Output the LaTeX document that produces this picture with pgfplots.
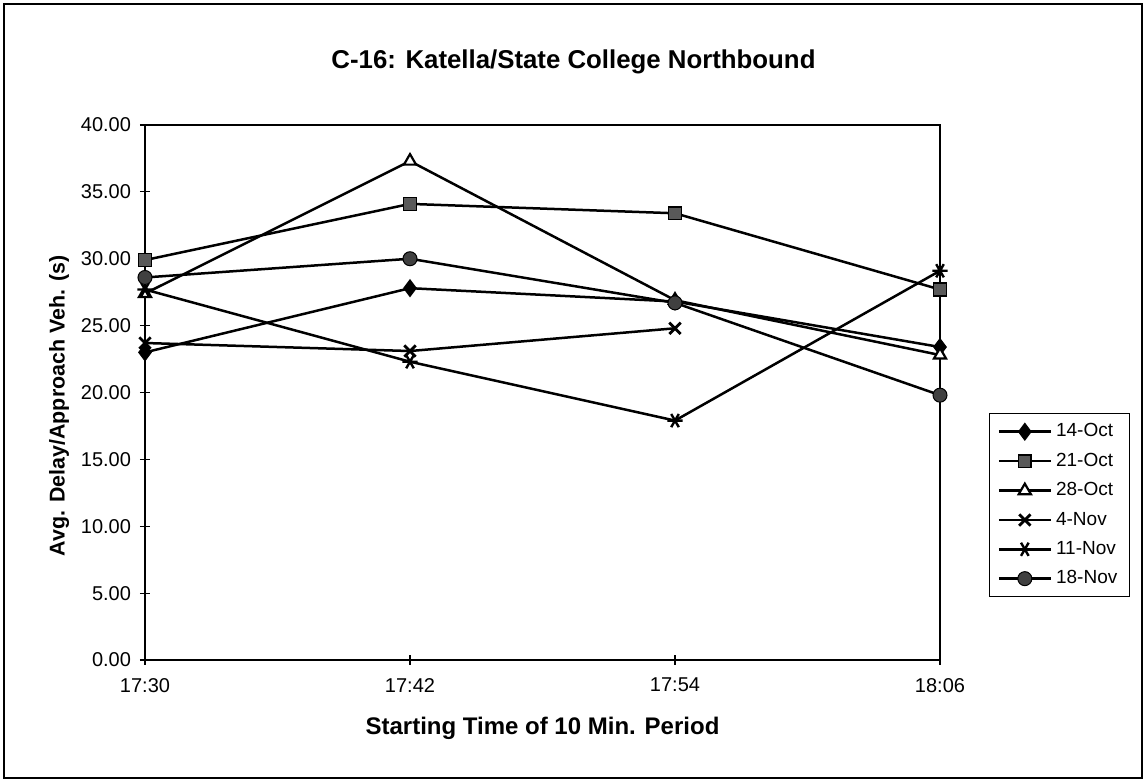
\documentclass[border=0pt]{standalone}
\usepackage{pgfplots}
\pgfplotsset{compat=1.18}
\usepackage{fontspec}
\setmainfont{Liberation Sans}
\usetikzlibrary{plotmarks}

\begin{document}
\begin{tikzpicture}
\path[use as bounding box] (-72.5pt,-60pt) rectangle (500.5pt,330pt);
\draw[line width=1pt] (-70.5pt,-59pt) rectangle (498.5pt,328pt);
\begin{axis}[
    at={(0pt,0pt)}, anchor=origin,
    scale only axis,
    width=397.5pt, height=267.5pt,
    xmin=0, xmax=3, ymin=0, ymax=40,
    xtick={0,1,2,3},
    xticklabels={17:30,17:42,17:54,18:06},
    ytick={0,5,...,40},
    yticklabel={\pgfmathprintnumber[fixed,fixed zerofill,precision=2]{\tick}},
    /pgf/number format/assume math mode=true,
    every tick label/.append style={font=\fontsize{10}{12}\selectfont},
    xtick pos=bottom, ytick pos=left,
    tick align=center,
    major tick length=5pt,
    tick style={black, line width=0.6pt},
    axis line style={line width=1.1pt},
    xticklabel style={yshift=-3pt},
    yticklabel style={xshift=-1pt},
    xlabel={Starting Time of 10 Min. Period},
    ylabel={Avg. Delay/Approach Veh. (s)},
    xlabel style={font=\fontsize{12}{14}\selectfont\bfseries, yshift=-5.5pt},
    ylabel style={font=\fontsize{10.7}{13}\selectfont\bfseries, at={(ticklabel cs:0.475)}, yshift=-1pt},
    title={C-16: Katella/State College Northbound},
    title style={font=\fontsize{12.9}{15}\selectfont\bfseries, at={(0.5,1)}, yshift=16pt, xshift=15.5pt},
    legend style={at={(1.0616,0.4617)}, anchor=north west, draw=black, line width=0.6pt,
        font=\fontsize{9.5}{11}\selectfont, row sep=2.6pt, inner xsep=4pt, inner ysep=3pt,
        nodes={inner xsep=2pt}},
    legend cell align=left,
    legend image code/.code={
        \draw[mark repeat=2,mark phase=2] plot coordinates {(0pt,0pt) (13pt,0pt) (26pt,0pt)};
    },
    every axis plot/.append style={black, line width=1.25pt},
]
\addplot[mark=diamond*, mark options={fill=black, solid, line width=0.5pt}, mark size=4.2pt]
    coordinates {(0,23.0) (1,27.8) (2,26.8) (3,23.4)};
\addlegendentry{14-Oct}
\addplot[mark=square*, mark options={fill=black!65, solid, line width=0.8pt}, mark size=3.2pt]
    coordinates {(0,29.9) (1,34.1) (2,33.4) (3,27.7)};
\addlegendentry{21-Oct}
\addplot[mark=triangle*, mark options={fill=white, solid, line width=1.1pt}, mark size=3.5pt]
    coordinates {(0,27.4) (1,37.3) (2,26.9) (3,22.8)};
\addlegendentry{28-Oct}
\addplot[mark=x, mark options={solid, line width=1.4pt}, mark size=4pt]
    coordinates {(0,23.7) (1,23.1) (2,24.8)};
\addlegendentry{4-Nov}
\addplot[mark=asterisk, mark options={solid, line width=1.2pt, rotate=90}, mark size=3.8pt]
    coordinates {(0,27.7) (1,22.3) (2,17.9) (3,29.1)};
\addlegendentry{11-Nov}
\addplot[mark=*, mark options={fill=black!75, solid, line width=0.5pt}, mark size=3.5pt]
    coordinates {(0,28.6) (1,30.0) (2,26.7) (3,19.8)};
\addlegendentry{18-Nov}
\end{axis}
\end{tikzpicture}
\end{document}
